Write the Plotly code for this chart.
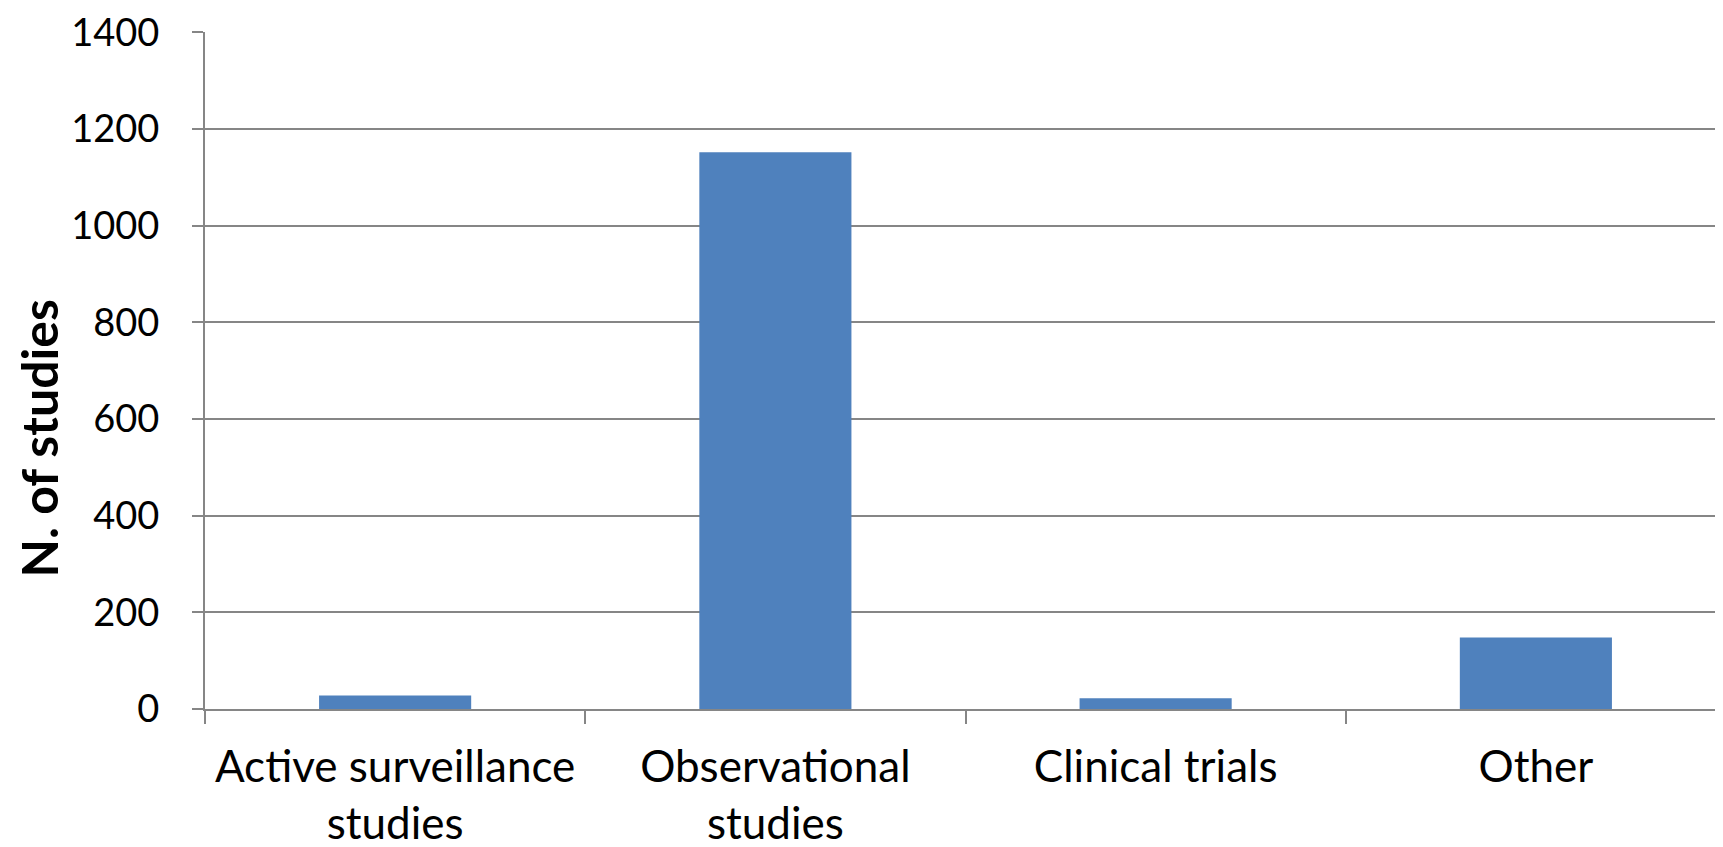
import plotly.graph_objects as go

categories = ["Active surveillance<br>studies", "Observational<br>studies", "Clinical trials", "Other"]
n_studies = [28, 1152, 22, 148]
y_ticks = [0, 200, 400, 600, 800, 1000, 1200, 1400]

FONT = "Lato, 'Open Sans', sans-serif"
GRID = "#868686"

fig = go.Figure(go.Bar(x=categories, y=n_studies, marker=dict(color="#4F81BD", line=dict(width=0))))

fig.update_layout(
    width=1723, height=847,
    margin=dict(l=197, r=5, t=24, b=146),
    plot_bgcolor="white", paper_bgcolor="white",
    bargap=0.6,
    showlegend=False,
    font=dict(family=FONT, size=44, color="black"),
)
fig.update_xaxes(
    type="category",
    tickson="boundaries",
    automargin=False,
    showgrid=False,
    showline=True, linecolor=GRID, linewidth=2,
    ticks="outside", ticklen=13, tickwidth=2, tickcolor=GRID,
    tickfont=dict(family=FONT, size=44, color="black"),
    ticklabelstandoff=18,
)
fig.update_yaxes(
    range=[0, 1401],
    tickvals=y_ticks,
    automargin=False,
    ticklabeloverflow="allow",
    showgrid=True, gridcolor=GRID, gridwidth=2,
    zeroline=False,
    showline=True, linecolor=GRID, linewidth=2,
    ticks="outside", ticklen=11, tickwidth=2, tickcolor=GRID,
    tickfont=dict(family=FONT, size=38, color="black"),
    ticklabelstandoff=25,
)
fig.add_annotation(
    text="<b>N. of studies</b>", textangle=-90,
    xref="paper", yref="paper", x=-0.109, y=0.40,
    xanchor="center", yanchor="middle", showarrow=False,
    font=dict(family=FONT, size=50, color="black"),
)

fig.write_html("out.html")
